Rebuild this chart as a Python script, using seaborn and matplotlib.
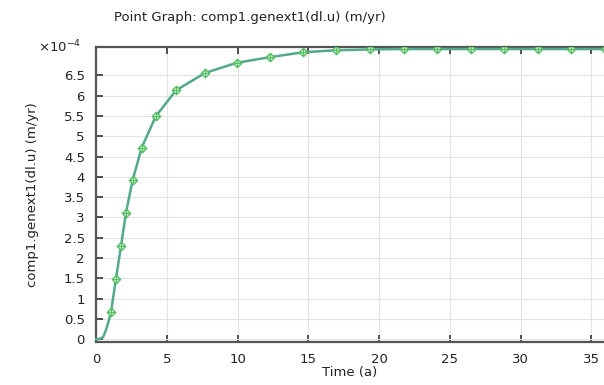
import numpy as np
import pandas as pd
import matplotlib
matplotlib.use("Agg")
import matplotlib.pyplot as plt
import seaborn as sns

# marker points (time in years, value in 1e-4 m/yr)
t_pts = [1.06, 1.41, 1.77, 2.12, 2.59, 3.23, 4.22, 5.65, 7.70, 9.94, 12.29,
         14.62, 16.95, 19.35, 21.75, 24.08, 26.48, 28.81, 31.21, 33.60, 36.0]
v_pts = [0.665, 1.485, 2.30, 3.12, 3.92, 4.72, 5.49, 6.13, 6.56, 6.81, 6.95,
         7.07, 7.12, 7.14, 7.15, 7.15, 7.15, 7.15, 7.15, 7.15, 7.15]
# extra points
t_extra = [0.0, 0.25, 0.5, 0.7, 0.9]
v_extra = [0.0, 0.005, 0.05, 0.22, 0.45]

xticks = [0, 5, 10, 15, 20, 25, 30, 35]
yticks = [0, 0.5, 1, 1.5, 2, 2.5, 3, 3.5, 4, 4.5, 5, 5.5, 6, 6.5]
ytick_labels = ["0", "0.5", "1", "1.5", "2", "2.5", "3", "3.5", "4", "4.5",
                "5", "5.5", "6", "6.5"]

sns.set_theme(style="whitegrid")
plt.rcParams['font.family'] = ['DejaVu Sans']

line_df = pd.DataFrame({"t": t_extra + t_pts, "v": v_extra + v_pts}).sort_values("t")
pt_df = pd.DataFrame({"t": t_pts, "v": v_pts})

fig = plt.figure(figsize=(6.04, 3.85), dpi=100)
ax = fig.add_axes([96/604, 1-342/385, 1-96/604, (342-47)/385])

sns.lineplot(data=line_df, x="t", y="v", ax=ax, color="#52a98d", linewidth=1.8,
             clip_on=False, zorder=3, sort=True)
sns.scatterplot(data=pt_df, x="t", y="v", ax=ax, marker="D", s=18,
                facecolor="#d6f0d6", edgecolor="#55bf66", linewidth=1.0,
                zorder=4, clip_on=True)
sns.scatterplot(data=pt_df, x="t", y="v", ax=ax, marker="+", s=26,
                color="#55bf66", linewidth=0.8, zorder=5, clip_on=True)

ax.set_xlim(0, 35.9)
ax.set_ylim(-0.07, 7.2)
ax.set_xticks(xticks)
ax.set_yticks(yticks)
ax.set_yticklabels(ytick_labels)
ax.grid(True, color="#e4e4e4", linewidth=0.8)
ax.set_facecolor("white")
for s in ["left", "bottom", "top", "right"]:
    ax.spines[s].set_color("#555555")
    ax.spines[s].set_linewidth(1.6)
ax.spines["right"].set_visible(False)
ax.tick_params(axis="both", direction="in", length=5, width=1.2, color="#333333",
               labelsize=9.5, labelcolor="#222222", pad=8)
ax.tick_params(axis="x", top=True, bottom=True, pad=8)
ax.tick_params(axis="y", left=True)
ax.set_xlabel("Time (a)", fontsize=9.5, color="#222222", labelpad=0)
ax.set_ylabel("comp1.genext1(dl.u) (m/yr)", fontsize=9.5, color="#222222", labelpad=18)
ax.text(-0.03, 1.0, r"$\times10^{-4}$", transform=ax.transAxes, ha="right",
        va="center", fontsize=9.5, color="#222222")
fig.text(250/604, 1-18/385, "Point Graph: comp1.genext1(dl.u) (m/yr)",
         ha="center", va="center", fontsize=9.5, color="#222222")

fig.savefig("out.png", dpi=100, facecolor="white")
